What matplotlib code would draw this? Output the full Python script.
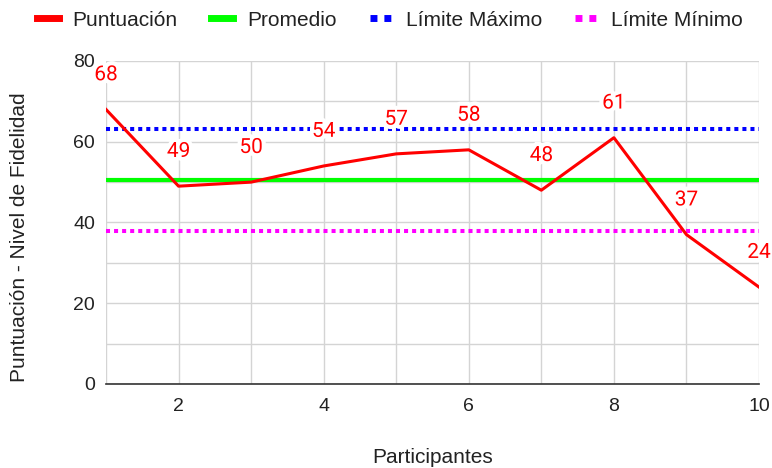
import matplotlib
matplotlib.use('Agg')
import matplotlib.pyplot as plt
import matplotlib.patheffects as pe
from matplotlib.lines import Line2D

# puntuación por participante
participantes = [1, 2, 3, 4, 5, 6, 7, 8, 9, 10]
puntuacion = [68, 49, 50, 54, 57, 58, 48, 61, 37, 24]
promedio = 50.6
limite_max = 63.2
limite_min = 38.0

x_ticks = [2, 4, 6, 8, 10]
y_ticks = [0, 20, 40, 60, 80]
series = ['Puntuación', 'Promedio', 'Límite Máximo', 'Límite Mínimo']

plt.rcParams['font.family'] = ['Liberation Sans', 'DejaVu Sans']
texto = '#222222'

fig = plt.figure(figsize=(7.72, 4.68), dpi=100)
# area del grafico en pixeles: x 106..759, y 61..384
ax = fig.add_axes([106 / 772, (468 - 384) / 468, 653 / 772, 323 / 468])

ax.plot(participantes, puntuacion, color='#ff0000', linewidth=2.2, zorder=5)
ax.axhline(promedio, color='#00ff00', linewidth=3, zorder=4)
ax.axhline(limite_max, color='#0000ff', linewidth=2.9, linestyle=(0, (1, 1)),
           dash_capstyle='butt', zorder=4)
ax.axhline(limite_min, color='#ff00ff', linewidth=2.9, linestyle=(0, (1, 1)),
           dash_capstyle='butt', zorder=4)

# etiquetas de valor encima de cada punto, con halo blanco
halo = [pe.withStroke(linewidth=6, foreground='white')]
for xi, yi in zip(participantes, puntuacion):
    ax.annotate(str(yi), (xi, yi), xytext=(0, 21), textcoords='offset points',
                ha='center', va='baseline', color='#ff0000', fontsize=15,
                family=['Roboto', 'DejaVu Sans'], zorder=6, annotation_clip=False,
                path_effects=halo)

ax.set_xlim(1, 10)
ax.set_ylim(0, 80)
ax.set_xticks(range(1, 11), minor=True)
ax.set_xticks(x_ticks)
ax.set_yticks(range(0, 81, 10), minor=True)
ax.set_yticks(y_ticks)
ax.grid(which='both', color='#d4d4d4', linewidth=1)
ax.set_axisbelow(True)
ax.tick_params(which='both', length=0, labelsize=14, colors=texto)
ax.tick_params(axis='x', pad=10)
ax.tick_params(axis='y', pad=8)

for s in ['top', 'right', 'left']:
    ax.spines[s].set_visible(False)
ax.spines['bottom'].set_color('#333333')
ax.spines['bottom'].set_linewidth(1.2)
ax.spines['bottom'].set_zorder(3)

# titulos de los ejes
fig.text(432.5 / 772, (468 - 463) / 468, 'Participantes', fontsize=15, color=texto,
         ha='center', va='baseline')
fig.text(19.5 / 772, (468 - 237.5) / 468, 'Puntuación - Nivel de Fidelidad', fontsize=15,
         color=texto, rotation=90, ha='center', va='center')

handles = [
    Line2D([], [], color='#ff0000', linewidth=5),
    Line2D([], [], color='#00ff00', linewidth=5),
    Line2D([], [], color='#0000ff', linewidth=5, linestyle=(0, (1, 1)), dash_capstyle='butt'),
    Line2D([], [], color='#ff00ff', linewidth=5, linestyle=(0, (1, 1)), dash_capstyle='butt'),
]
fig.legend(handles, series, loc='center', bbox_to_anchor=(0.505, 1 - 20 / 468), ncol=4,
           frameon=False, fontsize=15, handlelength=1.05, handletextpad=0.67,
           columnspacing=1.6, labelcolor=texto, borderpad=0)

fig.savefig('out.png', dpi=100)
